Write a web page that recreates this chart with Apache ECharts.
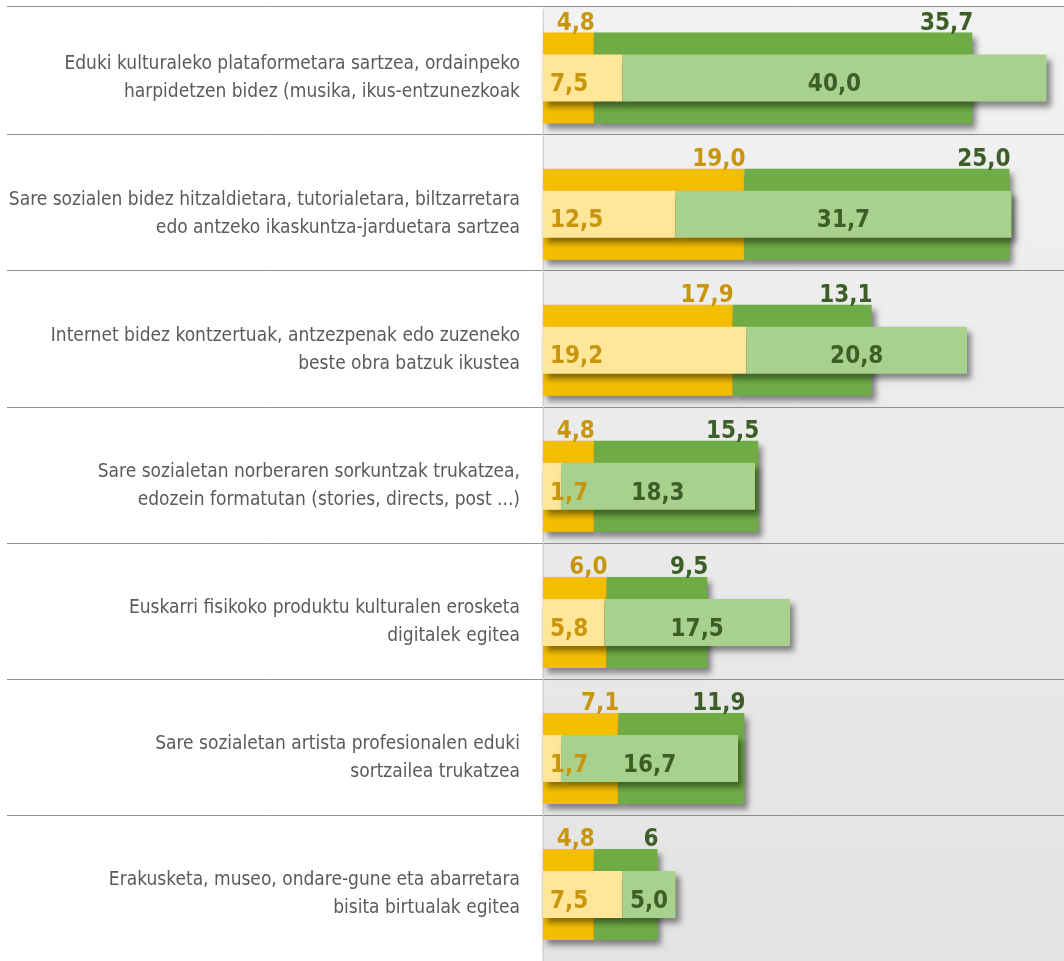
<!DOCTYPE html>
<html>
<head>
<meta charset="utf-8" />
<title>Eduki kulturalak</title>
<script src="https://cdn.jsdelivr.net/npm/echarts@6/dist/echarts.min.js"></script>
<style>
  html, body { margin: 0; padding: 0; background: #fff; }
  #chart { width: 1064px; height: 961px; }
</style>
</head>
<body>
<div id="chart"></div>
<script>
// kategoriak
var categories = [
  'Eduki kulturaleko plataformetara sartzea, ordainpeko\nharpidetzen bidez (musika, ikus-entzunezkoak',
  'Sare sozialen bidez hitzaldietara, tutorialetara, biltzarretara\nedo antzeko ikaskuntza-jarduetara sartzea',
  'Internet bidez kontzertuak, antzezpenak edo zuzeneko\nbeste obra batzuk ikustea',
  'Sare sozialetan norberaren sorkuntzak trukatzea,\nedozein formatutan (stories, directs, post ...)',
  'Euskarri fisikoko produktu kulturalen erosketa\ndigitalek egitea',
  'Sare sozialetan artista profesionalen eduki\nsortzailea trukatzea',
  'Erakusketa, museo, ondare-gune eta abarretara\nbisita birtualak egitea'
];
// atzeko barra (iluna)
var backOrange = [4.8, 19.0, 17.9, 4.8, 6.0, 7.1, 4.8];
var backGreen = [35.7, 25.0, 13.1, 15.5, 9.5, 11.9, 6];
var backGreenText = ['35,7', '25,0', '13,1', '15,5', '9,5', '11,9', '6'];
// aurreko barra (argia)
var frontYellow = [7.5, 12.5, 19.2, 1.7, 5.8, 1.7, 7.5];
var frontGreen = [40.0, 31.7, 20.8, 18.3, 17.5, 16.7, 5.0];

var FONT = "'Liberation Sans Narrow', 'DejaVu Sans Condensed', 'Roboto', sans-serif";
var ORANGE_TXT = '#c8950c';
var GREEN_TXT = '#3d5f27';
var VAL_SIZE = 24;

function fmt(v) { return v.toFixed(1).replace('.', ','); }

var shadow = {
  shadowBlur: 6,
  shadowOffsetX: 4,
  shadowOffsetY: 5,
  shadowColor: 'rgba(0,0,0,0.45)'
};

function topLabel(color, formatter) {
  return {
    show: true,
    position: ['100%', 0],
    align: 'right',
    verticalAlign: 'middle',
    offset: [1, -9],
    fontFamily: FONT,
    fontWeight: 'bold',
    fontSize: VAL_SIZE,
    color: color,
    formatter: formatter
  };
}

var chart = echarts.init(document.getElementById('chart'));
chart.setOption({
  animation: false,
  graphic: [
    {
      type: 'rect', z: -1, silent: true,
      shape: { x: 542, y: 6, width: 522, height: 955 },
      style: {
        fill: {
          type: 'linear', x: 0, y: 0, x2: 0, y2: 1,
          colorStops: [{ offset: 0, color: '#f2f2f2' }, { offset: 1, color: '#e4e3e4' }]
        }
      }
    },
    {
      type: 'line', z: 1, silent: true,
      shape: { x1: 7, y1: 6.5, x2: 1064, y2: 6.5 },
      style: { stroke: '#8f8f8f', lineWidth: 1 }
    }
  ],
  grid: [
    { left: 543, width: 530, top: 10, height: 952.6, outerBoundsMode: 'none' },
    // eskuineko lerro bereizleak: 6 banda, goiko ertza pantailatik kanpo
    { left: 7, right: 0, top: -1.5, height: 6 * 136.1, outerBoundsMode: 'none' }
  ],
  xAxis: [
    { type: 'value', gridIndex: 0, min: 0, max: 50, show: false },
    { type: 'value', gridIndex: 1, min: 0, max: 50, show: false }
  ],
  yAxis: [
    {
      type: 'category', gridIndex: 0, inverse: true, data: categories,
      axisTick: { show: false },
      axisLine: { show: true, lineStyle: { color: '#d2d2d2', width: 1 } },
      axisLabel: {
        interval: 0, margin: 23, align: 'right',
        fontFamily: FONT, fontSize: 19, lineHeight: 28, color: '#5a5a5a'
      }
    },
    { type: 'category', gridIndex: 0, inverse: true, data: categories, show: false },
    {
      type: 'category', gridIndex: 1, inverse: true, data: categories.slice(0, 6),
      axisTick: { show: false }, axisLine: { show: false }, axisLabel: { show: false },
      splitLine: { show: true, interval: 0, lineStyle: { color: '#8f8f8f', width: 1 } }
    }
  ],
  series: [
    {
      name: 'atzea-laranja', type: 'bar', stack: 'back', yAxisIndex: 0, barWidth: 91,
      data: backOrange,
      itemStyle: Object.assign({ color: '#f4be00' }, shadow),
      label: topLabel(ORANGE_TXT, function (p) { return fmt(p.value); })
    },
    {
      name: 'atzea-berdea', type: 'bar', stack: 'back', yAxisIndex: 0, barWidth: 91,
      data: backGreen,
      itemStyle: Object.assign({ color: '#6fac46' }, shadow),
      label: topLabel(GREEN_TXT, function (p) { return backGreenText[p.dataIndex]; })
    },
    {
      name: 'aurrea-horia', type: 'bar', stack: 'front', yAxisIndex: 1, barWidth: 47,
      data: frontYellow,
      itemStyle: Object.assign({ color: '#ffe699' }, shadow),
      label: {
        show: true, position: 'insideLeft', distance: 7, offset: [0, 7],
        fontFamily: FONT, fontWeight: 'bold', fontSize: VAL_SIZE, color: ORANGE_TXT,
        formatter: function (p) { return fmt(p.value); }
      }
    },
    {
      name: 'aurrea-berdea', type: 'bar', stack: 'front', yAxisIndex: 1, barWidth: 47,
      data: frontGreen,
      itemStyle: Object.assign({ color: '#a9d18e' }, shadow),
      label: {
        show: true, position: 'inside', offset: [0, 7],
        fontFamily: FONT, fontWeight: 'bold', fontSize: VAL_SIZE, color: GREEN_TXT,
        formatter: function (p) { return fmt(p.value); }
      }
    }
  ]
});
window.onresize = function () { chart.resize(); };
</script>
</body>
</html>
